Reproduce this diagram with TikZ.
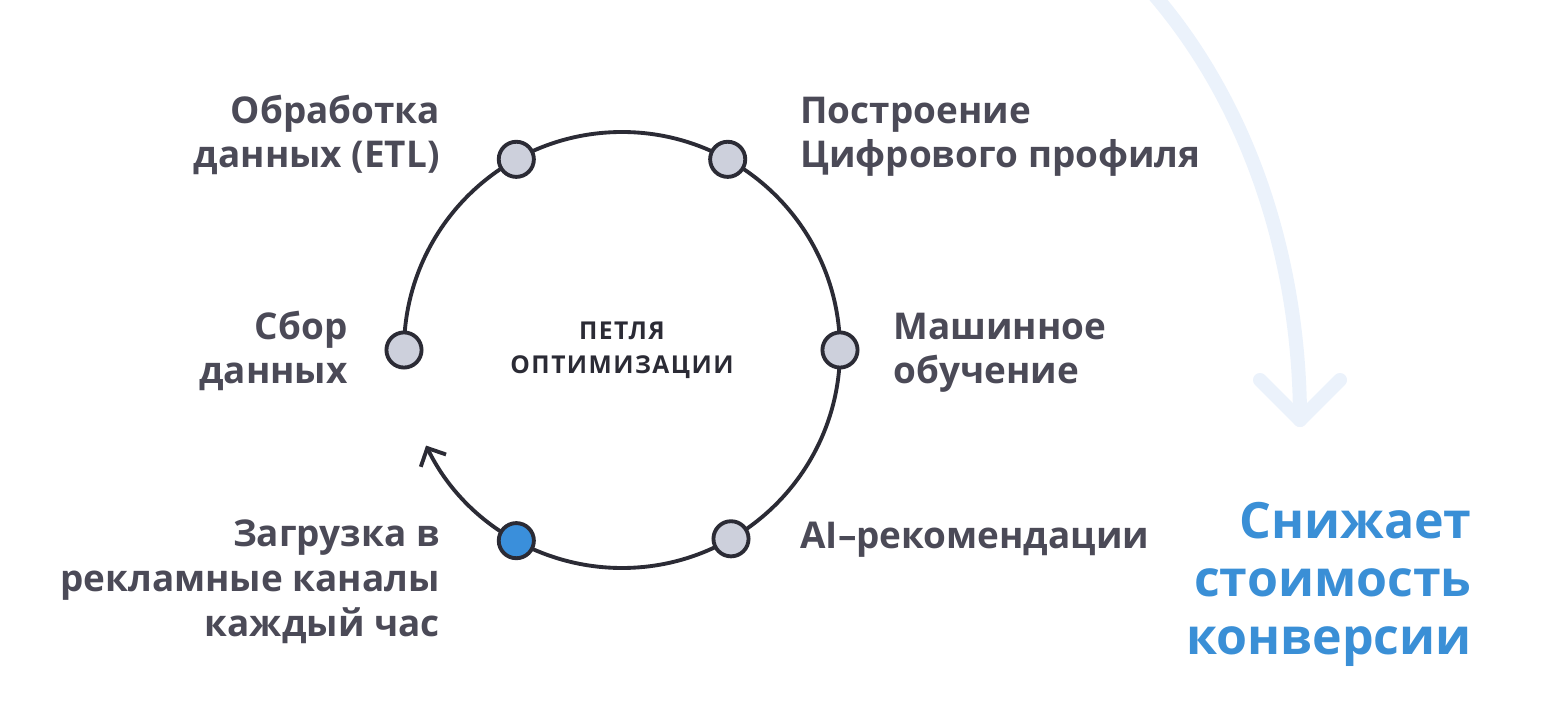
\documentclass[tikz,border=0pt]{standalone}
\usepackage{fontspec}
\setmainfont{Open Sans}
\usetikzlibrary{arrows.meta,calc}
\definecolor{ink}{HTML}{2B2B35}
\definecolor{txt}{HTML}{4B4A57}
\definecolor{dotgray}{HTML}{CDD0DC}
\definecolor{dotblue}{HTML}{3A8FDB}
\definecolor{blue}{HTML}{3A8FD6}
\definecolor{pale}{HTML}{EBF2FB}
\tikzset{
  stage/.style={circle,draw=ink,line width=2.2pt,fill=dotgray,minimum size=20pt,inner sep=0},
  lbl/.style={font=\fontsize{21}{25.5}\selectfont\bfseries,text=txt,inner sep=0},
  lblr/.style={lbl,align=right,anchor=base east},
  lbll/.style={lbl,align=left,anchor=base west},
}
\begin{document}
\begin{tikzpicture}[x=0.02cm,y=-0.02cm]
\useasboundingbox (0,0) rectangle (1545,722);
% pale arrow
\coordinate (p0) at (1150,-10);
\coordinate (p1) at (1300,420);
\draw[pale,line width=8pt,line cap=round] (p0) .. controls (1255,110) and (1300,270) .. (p1);
\draw[pale,line width=8pt,line cap=round,line join=round] (1260,380) -- (p1) -- (1340,380);
% loop (y axis points down, so angles run clockwise)
\coordinate (c) at (622,350);
\draw[ink,line width=2.2pt,-{Straight Barb[length=8pt,width=16pt]}] (c) ++(180:218) arc[start angle=180,end angle=514,radius=218];
\node[stage] (s1) at ($(c)+(180:218)$) {};
\node[stage] (s2) at ($(c)+(241:218)$) {};
\node[stage] (s3) at ($(c)+(299:218)$) {};
\node[stage] (s4) at ($(c)+(0:218)$) {};
\node[stage] (s5) at ($(c)+(60:218)$) {};
\node[stage,fill=dotblue] (s6) at ($(c)+(119:218)$) {};
\node[font=\fontsize{14}{19.5}\selectfont\bfseries\addfontfeature{LetterSpace=6},text=ink,align=center] (mid) at (c) {ПЕТЛЯ\\ОПТИМИЗАЦИИ};
% labels (anchored at the last line)
\node[lblr] (l1) at (348,384) {Сбор\\данных};
\node[lblr] (l2) at (440,168) {Обработка\\данных (ETL)};
\node[lbll] (l3) at (800,168) {Построение\\Цифрового профиля};
\node[lbll] (l4) at (893,384) {Машинное\\обучение};
\node[lbll] (l5) at (800,549) {AI–рекомендации};
\node[lblr] (l6) at (440,636) {Загрузка в\\рекламные каналы\\каждый час};
\node[font=\fontsize{28.5}{33}\selectfont\bfseries,text=blue,align=right,anchor=base east,inner sep=0] (res) at (1472,654) {Снижает\\стоимость\\конверсии};
\end{tikzpicture}
\end{document}
